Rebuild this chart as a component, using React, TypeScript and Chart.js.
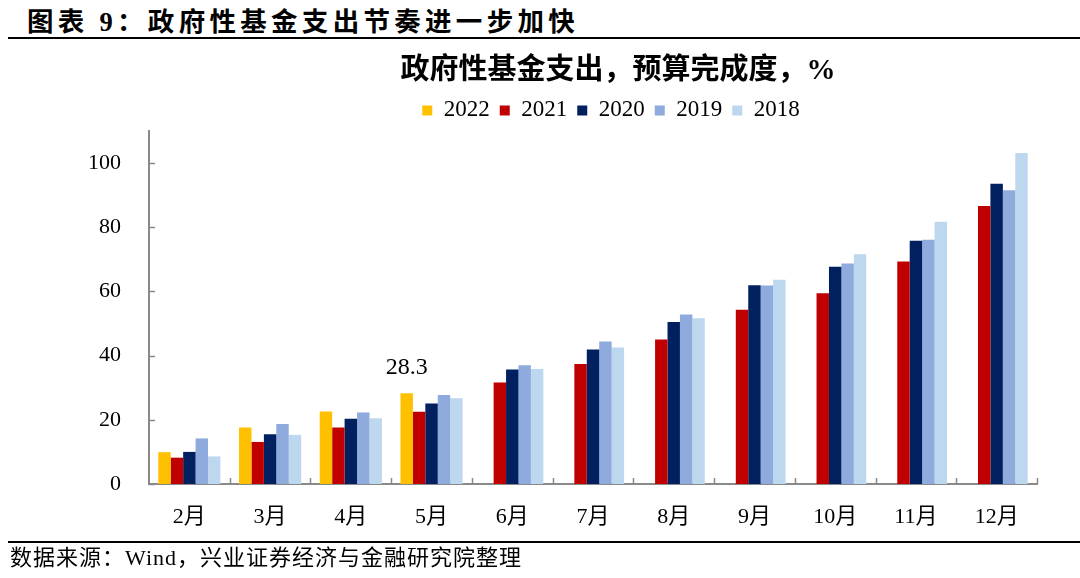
import React, { useEffect, useRef } from "react";
import { Chart, registerables } from "chart.js";

Chart.register(...registerables);

const categories = ["2月", "3月", "4月", "5月", "6月", "7月", "8月", "9月", "10月", "11月", "12月"];
const s2022 = [9.9, 17.6, 22.6, 28.3, null, null, null, null, null, null, null];
const s2021 = [8.2, 13.1, 17.6, 22.5, 31.6, 37.4, 45.0, 54.3, 59.4, 69.3, 86.6];
const s2020 = [10.0, 15.5, 20.3, 25.1, 35.7, 41.9, 50.5, 61.9, 67.7, 75.8, 93.5];
const s2019 = [14.2, 18.7, 22.3, 27.7, 37.0, 44.4, 52.8, 61.8, 68.7, 76.1, 91.5];
const s2018 = [8.6, 15.3, 20.5, 26.7, 35.8, 42.5, 51.6, 63.6, 71.6, 81.7, 103.1];
const seriesNames = ["2022", "2021", "2020", "2019", "2018"];
const seriesColors = ["#FFC000", "#C00000", "#002060", "#8FAADC", "#BDD7EE"];
const yTickValues = [0, 20, 40, 60, 80, 100];
const annotatedSeries = 0;
const annotatedIndex = 3;

const chartTitle = "政府性基金支出，预算完成度，%";
const headerText = "图表 9：政府性基金支出节奏进一步加快";
const footerText = "数据来源：Wind，兴业证券经济与金融研究院整理";

const FONT = "'Liberation Serif', 'Noto Sans CJK SC', serif";
const AXIS_COLOR = "#898989";

const headerShift = {
  id: "headerShift",
  afterLayout(chart: any) {
    const tb = chart.titleBlock;
    if (tb) {
      const dx = 618 - (tb.left + tb.right) / 2;
      tb.left += dx;
      tb.right += dx;
    }
    const lg = chart.legend;
    if (lg) {
      const dx = 611 - (lg.left + lg.right) / 2;
      lg.left += dx;
      lg.right += dx;
      lg.top += 1;
      lg.bottom += 1;
    }
  },
};

const innerTicks = {
  id: "innerTicks",
  afterDraw(chart: any) {
    const { ctx, chartArea, scales } = chart;
    ctx.save();
    ctx.strokeStyle = AXIS_COLOR;
    ctx.lineWidth = 1.5;
    const ys = scales.y;
    ys.ticks.forEach((t: any) => {
      const py = Math.round(ys.getPixelForValue(t.value)) + 0.5;
      ctx.beginPath();
      ctx.moveTo(chartArea.left, py);
      ctx.lineTo(chartArea.left + 6, py);
      ctx.stroke();
    });
    const n = categories.length;
    const w = (chartArea.right - chartArea.left) / n;
    for (let i = 1; i <= n; i++) {
      const px = Math.round(chartArea.left + i * w) + 0.5;
      ctx.beginPath();
      ctx.moveTo(px, chartArea.bottom);
      ctx.lineTo(px, chartArea.bottom - 6);
      ctx.stroke();
    }
    const meta = chart.getDatasetMeta(annotatedSeries);
    const bar: any = meta.data[annotatedIndex];
    const v = chart.data.datasets[annotatedSeries].data[annotatedIndex];
    if (bar && v != null) {
      ctx.fillStyle = "#000";
      ctx.font = `24px ${FONT}`;
      ctx.textAlign = "center";
      ctx.textBaseline = "middle";
      ctx.fillText(String(v), bar.x, bar.y - 25);
    }
    ctx.restore();
  },
};

export default function App() {
  const ref = useRef<HTMLCanvasElement | null>(null);

  useEffect(() => {
    if (!ref.current) return;
    const allSeries = [s2022, s2021, s2020, s2019, s2018];
    const chart = new Chart(ref.current, {
      type: "bar",
      data: {
        labels: categories,
        datasets: allSeries.map((d, i) => ({
          label: seriesNames[i],
          data: d,
          backgroundColor: seriesColors[i],
          borderWidth: 0,
          categoryPercentage: 0.77,
          barPercentage: 1,
        })),
      },
      options: {
        responsive: false,
        animation: false,
        devicePixelRatio: 1,
        layout: { padding: { left: 60, right: 43, top: 0, bottom: 0.6 } },
        plugins: {
          title: {
            display: true,
            text: chartTitle,
            color: "#000",
            font: { family: FONT, size: 29, weight: "bold", lineHeight: 1.1 },
            padding: { top: 5, bottom: 0 },
          },
          legend: {
            display: true,
            position: "top",
            labels: {
              color: "#000",
              boxWidth: 10,
              boxHeight: 10,
              padding: 10,
              font: { family: FONT, size: 23 },
            },
          },
          tooltip: { enabled: false },
        },
        scales: {
          x: {
            grid: { display: false, drawTicks: false },
            border: { display: true, color: AXIS_COLOR, width: 2 },
            ticks: {
              color: "#000",
              padding: 20,
              font: { family: FONT, size: 22 },
            },
          },
          y: {
            min: 0,
            max: 110,
            grid: { display: false, drawTicks: false },
            border: { display: true, color: AXIS_COLOR, width: 2 },
            afterBuildTicks: (scale: any) => {
              scale.ticks = yTickValues.map((v) => ({ value: v }));
            },
            ticks: {
              color: "#000",
              padding: 28,
              font: { family: FONT, size: 22 },
            },
          },
        },
      },
      plugins: [headerShift, innerTicks],
    });
    return () => chart.destroy();
  }, []);

  return (
    <div
      style={{
        position: "absolute",
        left: 0,
        top: 0,
        width: 1080,
        height: 578,
        background: "#fff",
        overflow: "hidden",
        fontFamily: FONT,
        color: "#000",
      }}
    >
      <div
        style={{
          position: "absolute",
          left: 27,
          top: 9,
          fontSize: 26.5,
          lineHeight: "26px",
          fontWeight: "bold",
          letterSpacing: 4.3,
          whiteSpace: "nowrap",
        }}
      >
        {headerText}
      </div>
      <div style={{ position: "absolute", left: 8, top: 37, width: 1072, height: 2, background: "#000" }} />
      <canvas
        ref={ref}
        width={1080}
        height={500}
        style={{ position: "absolute", left: 0, top: 51, width: 1080, height: 500 }}
      />
      <div style={{ position: "absolute", left: 8, top: 541, width: 1072, height: 2, background: "#000" }} />
      <div
        style={{
          position: "absolute",
          left: 10,
          top: 547,
          fontSize: 22,
          lineHeight: "22px",
          letterSpacing: 1.0,
          whiteSpace: "nowrap",
        }}
      >
        {footerText}
      </div>
    </div>
  );
}
